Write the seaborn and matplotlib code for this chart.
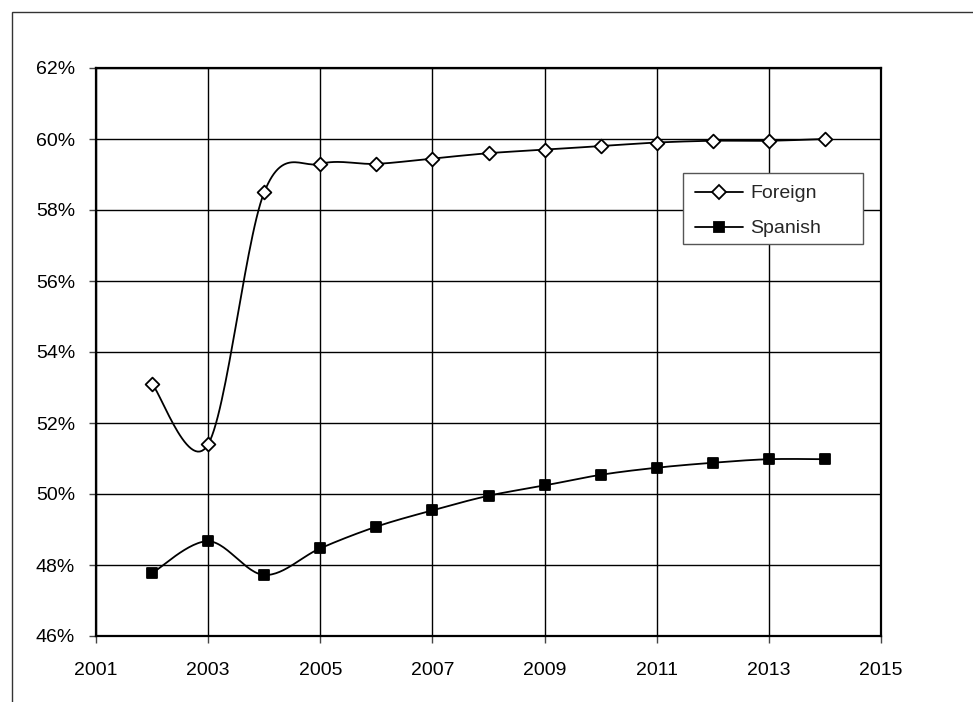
import numpy as np
import pandas as pd
import matplotlib
matplotlib.use("Agg")
import matplotlib.pyplot as plt
import seaborn as sns
from matplotlib.lines import Line2D
from matplotlib.patches import Rectangle
from matplotlib.ticker import FuncFormatter

years = [2002, 2003, 2004, 2005, 2006, 2007, 2008, 2009, 2010, 2011, 2012, 2013, 2014]
foreign = [53.1, 51.4, 58.5, 59.3, 59.3, 59.45, 59.6, 59.7, 59.8, 59.9, 59.95, 59.95, 60.0]
spanish = [47.77, 48.67, 47.72, 48.47, 49.08, 49.54, 49.95, 50.24, 50.54, 50.74, 50.88, 50.98, 50.98]
series_names = ["Foreign", "Spanish"]
x_ticks = [2001, 2003, 2005, 2007, 2009, 2011, 2013, 2015]
y_ticks = [46, 48, 50, 52, 54, 56, 58, 60, 62]

sns.set_theme(style="white")
plt.rcParams['font.family'] = ['Liberation Sans', 'DejaVu Sans']


def smooth(xs, ys, n=30):
    """Excel-style smoothed line (Catmull-Rom through the data points)."""
    xs = np.asarray(xs, float)
    ys = np.asarray(ys, float)
    px = np.concatenate([[xs[0]], xs, [xs[-1]]])
    py = np.concatenate([[ys[0]], ys, [ys[-1]]])
    out_x, out_y = [], []
    t = np.linspace(0, 1, n)
    for i in range(1, len(px) - 2):
        p0x, p1x, p2x, p3x = px[i - 1], px[i], px[i + 1], px[i + 2]
        p0y, p1y, p2y, p3y = py[i - 1], py[i], py[i + 1], py[i + 2]
        c1x, c1y = p1x + (p2x - p0x) / 6, p1y + (p2y - p0y) / 6
        c2x, c2y = p2x - (p3x - p1x) / 6, p2y - (p3y - p1y) / 6
        bx = (1 - t) ** 3 * p1x + 3 * (1 - t) ** 2 * t * c1x + 3 * (1 - t) * t ** 2 * c2x + t ** 3 * p2x
        by = (1 - t) ** 3 * p1y + 3 * (1 - t) ** 2 * t * c1y + 3 * (1 - t) * t ** 2 * c2y + t ** 3 * p2y
        out_x.extend(bx if i == 1 else bx[1:])
        out_y.extend(by if i == 1 else by[1:])
    return np.array(out_x), np.array(out_y)


fig = plt.figure(figsize=(9.73, 7.02), dpi=100)
ax = fig.add_axes([96 / 973, 1 - 636 / 702, 785 / 973, 568 / 702])

markers = {"Foreign": "D", "Spanish": "s"}
facec = {"Foreign": "white", "Spanish": "black"}
msize = {"Foreign": 7, "Spanish": 7.5}
for name, vals in zip(series_names, [foreign, spanish]):
    sx, sy = smooth(years, vals)
    curve = pd.DataFrame({"year": sx, "value": sy})
    sns.lineplot(data=curve, x="year", y="value", ax=ax, color="black", lw=1.3,
                 sort=False, estimator=None, zorder=3)
    pts = pd.DataFrame({"year": years, "value": vals})
    sns.scatterplot(data=pts, x="year", y="value", ax=ax, marker=markers[name],
                    s=msize[name] ** 2, color=facec[name], edgecolor="black",
                    linewidth=1.3, zorder=4)

ax.set_xlim(2001, 2015)
ax.set_ylim(46, 62)
ax.set_xticks(x_ticks)
ax.set_yticks(y_ticks)
ax.yaxis.set_major_formatter(FuncFormatter(lambda v, p: f"{v:.0f}%"))
ax.set_xlabel("")
ax.set_ylabel("")
ax.grid(True, color="black", lw=1.0)
ax.set_axisbelow(True)
for sp in ax.spines.values():
    sp.set_visible(True)
    sp.set_color("black")
    sp.set_linewidth(1.6)
ax.tick_params(axis="both", which="major", direction="out", length=5, width=1,
               color="#444444", labelsize=14, labelcolor="black",
               left=True, bottom=True)
ax.tick_params(axis="y", pad=10)
ax.tick_params(axis="x", pad=14)

# legend frame drawn as an Excel-like box
ax.add_patch(Rectangle((0.7478, 0.690), 0.977 - 0.7478, 0.815 - 0.690,
                       transform=ax.transAxes, facecolor="white",
                       edgecolor="#555555", lw=1.0, zorder=5))
handles = [Line2D([0], [0], color="black", lw=1.3, marker=markers[n],
                  markerfacecolor=facec[n], markeredgecolor="black",
                  markeredgewidth=1.3, markersize=msize[n]) for n in series_names]
leg = ax.legend(handles, series_names, loc="upper left", bbox_to_anchor=(0.748, 0.815),
                borderaxespad=0, frameon=False, fontsize=14, handlelength=2.5,
                handletextpad=0.35, borderpad=0.6, labelspacing=0.9)
leg.set_zorder(6)

# outer chart-area frame (partly cropped in the reference)
fig.patches.append(Rectangle((12 / 973, -0.5), 2.0, 1 - 12 / 702 + 0.5,
                             transform=fig.transFigure, fill=False,
                             edgecolor="#333333", lw=1.0, clip_on=False))

fig.savefig("out.png", dpi=100)
